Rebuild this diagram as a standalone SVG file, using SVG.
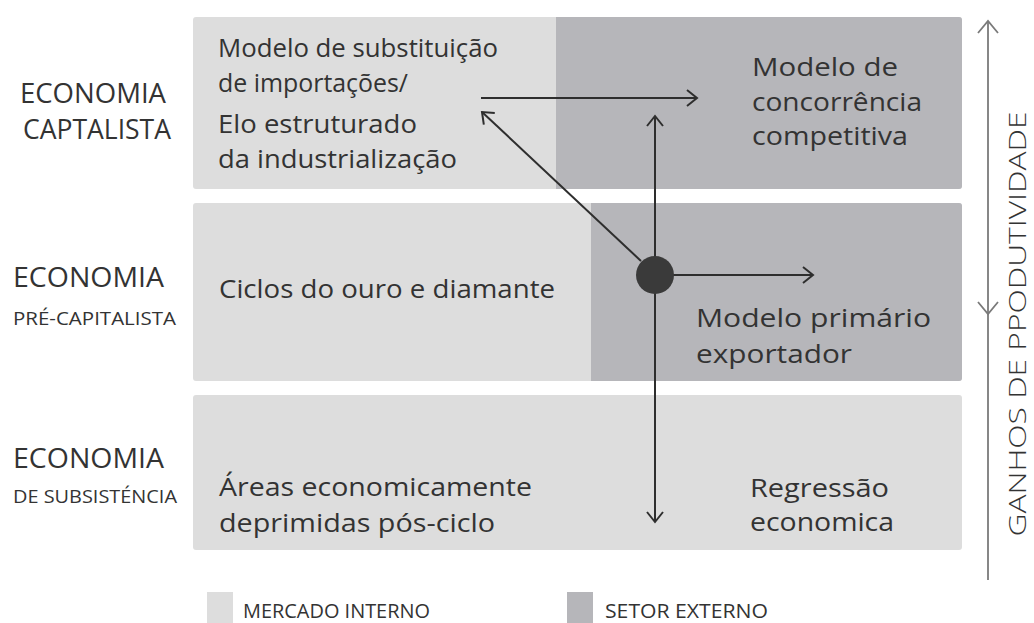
<svg xmlns="http://www.w3.org/2000/svg" width="1034" height="623" viewBox="0 0 1034 623">
<defs>
<style>
.lt{fill:#dddddd}
.dk{fill:#b6b6ba}
.t{font-family:"Open Sans",Lato,sans-serif;font-weight:400;fill:#333333}
.big{font-size:26px}
.lab{font-size:27px}
.sm{font-size:19px}
.leg{font-size:20px}
.ax{font-size:24px;font-weight:300}
.conn{stroke:#2e2e2e;stroke-width:2;fill:none}
.axis{stroke:#7a7a7a;stroke-width:1.8;fill:none}
</style>
<marker id="ah" viewBox="0 0 20 20" refX="18" refY="10" markerWidth="20" markerHeight="20" markerUnits="userSpaceOnUse" orient="auto">
<path d="M8,2 L18,10 L8,18" fill="none" stroke="#2e2e2e" stroke-width="2"/>
</marker>
<marker id="ahg" viewBox="0 0 24 24" refX="22" refY="12" markerWidth="24" markerHeight="24" markerUnits="userSpaceOnUse" orient="auto">
<path d="M10,2 L22,12 L10,22" fill="none" stroke="#7a7a7a" stroke-width="1.8"/>
</marker>
</defs>
<rect width="1034" height="623" fill="#ffffff"/>

<g id="row-capitalista">
<rect class="lt" x="193" y="17" width="769" height="172" rx="3"/>
<path class="dk" d="M556,17 H959 a3,3 0 0 1 3,3 V186 a3,3 0 0 1 -3,3 H556 Z"/>
<text class="t lab" x="20" y="103" textLength="146" lengthAdjust="spacingAndGlyphs">ECONOMIA</text>
<text class="t lab" x="23" y="139" textLength="148" lengthAdjust="spacingAndGlyphs">CAPTALISTA</text>
</g>
<g id="node-substituicao">
<text class="t big" x="218" y="57" textLength="280" lengthAdjust="spacingAndGlyphs">Modelo de substituição</text>
<text class="t big" x="218" y="92" textLength="190" lengthAdjust="spacingAndGlyphs">de importações/</text>
<text class="t big" x="218" y="133" textLength="199" lengthAdjust="spacingAndGlyphs">Elo estruturado</text>
<text class="t big" x="218" y="168" textLength="239" lengthAdjust="spacingAndGlyphs">da industrialização</text>
</g>
<g id="node-concorrencia">
<text class="t big" x="752" y="76" textLength="146" lengthAdjust="spacingAndGlyphs">Modelo de</text>
<text class="t big" x="752" y="111" textLength="170" lengthAdjust="spacingAndGlyphs">concorrência</text>
<text class="t big" x="752" y="145" textLength="156" lengthAdjust="spacingAndGlyphs">competitiva</text>
</g>

<g id="row-pre-capitalista">
<rect class="lt" x="193" y="203" width="769" height="178" rx="3"/>
<path class="dk" d="M591,203 H959 a3,3 0 0 1 3,3 V378 a3,3 0 0 1 -3,3 H591 Z"/>
<text class="t lab" x="13" y="287" textLength="151" lengthAdjust="spacingAndGlyphs">ECONOMIA</text>
<text class="t sm" x="13" y="325" textLength="163" lengthAdjust="spacingAndGlyphs">PRÉ-CAPITALISTA</text>
</g>
<g id="node-ciclos">
<text class="t big" x="219" y="298" textLength="336" lengthAdjust="spacingAndGlyphs">Ciclos do ouro e diamante</text>
</g>
<g id="node-primario">
<text class="t big" x="696" y="327" textLength="235" lengthAdjust="spacingAndGlyphs">Modelo primário</text>
<text class="t big" x="696" y="363" textLength="156" lengthAdjust="spacingAndGlyphs">exportador</text>
</g>

<g id="row-subsistencia">
<rect class="lt" x="193" y="395" width="769" height="155" rx="3"/>
<text class="t lab" x="13" y="468" textLength="151" lengthAdjust="spacingAndGlyphs">ECONOMIA</text>
<text class="t sm" x="13" y="503" textLength="164" lengthAdjust="spacingAndGlyphs">DE SUBSISTÉNCIA</text>
</g>
<g id="node-areas">
<text class="t big" x="219" y="496" textLength="313" lengthAdjust="spacingAndGlyphs">Áreas economicamente</text>
<text class="t big" x="219" y="532" textLength="276" lengthAdjust="spacingAndGlyphs">deprimidas pós-ciclo</text>
</g>
<g id="node-regressao">
<text class="t big" x="750" y="497" textLength="139" lengthAdjust="spacingAndGlyphs">Regressão</text>
<text class="t big" x="750" y="531" textLength="144" lengthAdjust="spacingAndGlyphs">economica</text>
</g>

<g id="connectors">
<line class="conn" x1="481" y1="98" x2="697" y2="98" marker-end="url(#ah)"/>
<line class="conn" x1="655" y1="275" x2="655" y2="116" marker-end="url(#ah)"/>
<line class="conn" x1="655" y1="275" x2="655" y2="522" marker-end="url(#ah)"/>
<line class="conn" x1="641" y1="261" x2="482" y2="112" marker-end="url(#ah)"/>
<line class="conn" x1="672" y1="275" x2="813" y2="275" marker-end="url(#ah)"/>
</g>
<g id="node-hub">
<circle cx="655" cy="275" r="19" fill="#3a3a3a"/>
</g>

<g id="axis">
<line class="axis" x1="988" y1="580" x2="988" y2="21" marker-end="url(#ahg)"/>
<path d="M978,302 L988,314 L998,302" fill="none" stroke="#7a7a7a" stroke-width="1.8"/>
<text class="t ax" x="1026" y="324" text-anchor="middle" textLength="425" lengthAdjust="spacingAndGlyphs" transform="rotate(-90 1026 324)">GANHOS DE PPODUTIVIDADE</text>
</g>

<g id="legend">
<rect class="lt" x="207" y="592" width="26" height="31"/>
<text class="t leg" x="243" y="618" textLength="187" lengthAdjust="spacingAndGlyphs">MERCADO INTERNO</text>
<rect class="dk" x="567" y="592" width="26" height="31"/>
<text class="t leg" x="605" y="618" textLength="163" lengthAdjust="spacingAndGlyphs">SETOR EXTERNO</text>
</g>
</svg>
